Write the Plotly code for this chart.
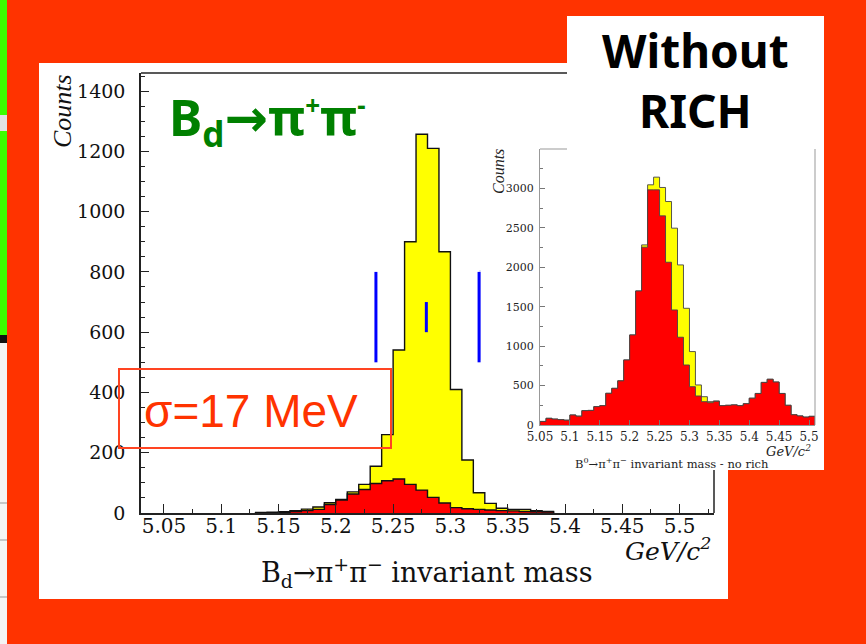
import plotly.graph_objects as go

W, H = 866, 644

# ---------------- data ----------------
# Main plot (with RICH): bin left edges in GeV/c^2, bin width 0.01
main_bins = [5.13, 5.14, 5.15, 5.16, 5.17, 5.18, 5.19, 5.20, 5.21, 5.22, 5.23, 5.24, 5.25,
             5.26, 5.27, 5.28, 5.29, 5.30, 5.31, 5.32, 5.33, 5.34, 5.35, 5.36, 5.37, 5.38]
main_all = [2, 3, 4, 8, 13, 20, 34, 45, 70, 95, 155, 260, 541,
            900, 1257, 1210, 867, 410, 176, 67, 32, 16, 12, 12, 8, 5]
main_sel = [1, 1, 2, 5, 8, 12, 28, 43, 63, 78, 98, 107, 113,
            95, 76, 52, 33, 18, 14, 12, 10, 8, 7, 5, 4, 3]

# Inset (without RICH): bin left edges, bin width 0.01
inset_bins = [5.05, 5.06, 5.07, 5.08, 5.09, 5.10, 5.11, 5.12, 5.13, 5.14, 5.15, 5.16,
              5.17, 5.18, 5.19, 5.20, 5.21, 5.22, 5.23, 5.24, 5.25, 5.26, 5.27, 5.28,
              5.29, 5.30, 5.31, 5.32, 5.33, 5.34, 5.35, 5.36, 5.37, 5.38, 5.39, 5.40,
              5.41, 5.42, 5.43, 5.44, 5.45, 5.46, 5.47, 5.48, 5.49, 5.50]
inset_all = [45, 85, 75, 68, 61, 127, 112, 182, 185, 233, 245, 402,
             465, 560, 825, 1142, 1700, 2284, 3046, 3143, 3012, 2834, 2496, 2030,
             1480, 931, 508, 359, 296, 305, 245, 250, 255, 245, 270, 340,
             400, 540, 580, 545, 400, 250, 130, 115, 100, 110]
inset_sel = [45, 85, 75, 68, 61, 127, 112, 182, 185, 233, 245, 402,
             465, 560, 825, 1142, 1700, 2255, 2982, 2982, 2652, 2064, 1459, 1113,
             761, 486, 368, 296, 283, 300, 245, 250, 255, 245, 270, 340,
             400, 540, 580, 545, 400, 250, 130, 115, 100, 110]
bin_width = 0.01

main_xticks = [5.05, 5.1, 5.15, 5.2, 5.25, 5.3, 5.35, 5.4, 5.45, 5.5]
main_xtext = ["5.05", "5.1", "5.15", "5.2", "5.25", "5.3", "5.35", "5.4", "5.45", "5.5"]
main_yticks = [0, 200, 400, 600, 800, 1000, 1200, 1400]
main_ytext = ["0", "200", "400", "600", "800", "1000", "1200", "1400"]
inset_yticks = [0, 500, 1000, 1500, 2000, 2500, 3000]
inset_ytext = ["0", "500", "1000", "1500", "2000", "2500", "3000"]

# mass window markers (blue)
window_x = [5.235, 5.279, 5.325]
window_lo = [500, 600, 500]
window_hi = [800, 700, 800]


def PX(x):
    return x / W


def PY(y):
    return 1 - y / H


def step(edges, vals, width):
    xs = [edges[0]]
    ys = [0]
    for e, v in zip(edges, vals):
        xs.append(e)
        ys.append(v)
    xs.append(edges[-1] + width)
    ys.append(vals[-1])
    xs.append(edges[-1] + width)
    ys.append(0)
    return xs, ys


fig = go.Figure()

for vals, col, ax, lc, lw in [
    (main_all, "#FFFF00", ("x", "y"), "#111111", 1.4),
    (main_sel, "#FF0000", ("x", "y"), "#111111", 1.4),
    (inset_all, "#FFFF00", ("x2", "y2"), "#444444", 0.9),
    (inset_sel, "#FF0000", ("x2", "y2"), "#444444", 0.9),
]:
    edges = main_bins if ax[0] == "x" else inset_bins
    xs, ys = step(edges, vals, bin_width)
    fig.add_trace(go.Scatter(x=xs, y=ys, mode="lines", line_shape="hv",
                             fill="tozeroy", fillcolor=col,
                             line=dict(color=lc, width=lw),
                             xaxis=ax[0], yaxis=ax[1], showlegend=False,
                             hoverinfo="skip"))

shapes = []
# backgrounds
shapes.append(dict(type="rect", xref="paper", yref="paper", x0=PX(39), x1=PX(728),
                   y0=PY(599), y1=PY(63), fillcolor="white", line_width=0, layer="below"))
shapes.append(dict(type="rect", xref="paper", yref="paper", x0=PX(567), x1=PX(824),
                   y0=PY(470), y1=PY(16), fillcolor="white", line_width=0, layer="below"))
shapes.append(dict(type="rect", xref="paper", yref="paper", x0=0, x1=PX(7),
                   y0=PY(335), y1=PY(0), fillcolor="#3CFF00", line_width=0, layer="below"))
shapes.append(dict(type="rect", xref="paper", yref="paper", x0=0, x1=PX(7),
                   y0=PY(131), y1=PY(115), fillcolor="#E2E2E2", line_width=0, layer="below"))
shapes.append(dict(type="rect", xref="paper", yref="paper", x0=0, x1=PX(7),
                   y0=PY(343), y1=PY(335), fillcolor="#111111", line_width=0, layer="below"))
shapes.append(dict(type="rect", xref="paper", yref="paper", x0=0, x1=PX(7),
                   y0=0, y1=PY(343), fillcolor="#F4F4F4", line_width=0, layer="below"))
for yy in [503, 540, 597]:
    shapes.append(dict(type="line", xref="paper", yref="paper", x0=0, x1=PX(7),
                       y0=PY(yy), y1=PY(yy), line=dict(color="#999999", width=1), layer="below"))
shapes.append(dict(type="line", xref="paper", yref="paper", x0=PX(480), x1=PX(480),
                   y0=PY(360), y1=PY(270), line=dict(color="#C8C8FF", width=1), layer="below"))
# main frame (top and right parts)
shapes.append(dict(type="line", xref="paper", yref="paper", x0=PX(141), x1=PX(567),
                   y0=PY(73), y1=PY(73), line=dict(color="#222222", width=1.5)))
shapes.append(dict(type="line", xref="paper", yref="paper", x0=PX(714), x1=PX(714),
                   y0=PY(513), y1=PY(470), line=dict(color="#222222", width=1.5)))
# inset frame (top-left piece and right)
shapes.append(dict(type="line", xref="paper", yref="paper", x0=PX(540), x1=PX(567),
                   y0=PY(149), y1=PY(149), line=dict(color="#999999", width=1)))
shapes.append(dict(type="line", xref="paper", yref="paper", x0=PX(815), x1=PX(815),
                   y0=PY(425), y1=PY(149), line=dict(color="#999999", width=1)))
# sigma box
shapes.append(dict(type="rect", xref="paper", yref="paper", x0=PX(119), x1=PX(391),
                   y0=PY(448), y1=PY(369), line=dict(color="#FF4422", width=2)))
# blue mass window lines
for wx, lo, hi in zip(window_x, window_lo, window_hi):
    shapes.append(dict(type="line", xref="x", yref="y", x0=wx, x1=wx, y0=lo, y1=hi,
                       line=dict(color="#0000FF", width=3)))

serif = "DejaVu Serif, serif"
times = "Liberation Serif, Times New Roman, serif"

annotations = [
    dict(x=PX(167), y=PY(120), xanchor="left", yanchor="middle",
         text="<b>B<sub>d</sub><span style='font-family:DejaVu Sans;font-size:52px'>→</span>π"
              "<sup><span style='font-size:26px'>+</span></sup>"
              "π<sup><span style='font-size:26px'>-</span></sup></b>",
         font=dict(family="Noto Sans, sans-serif", size=50, color="#008000")),
    dict(x=PX(695), y=PY(80), xanchor="center", yanchor="middle",
         text="<b>Without<br>RICH</b>", align="center",
         font=dict(family="Noto Sans, sans-serif", size=46, color="black")),
    dict(x=PX(251), y=PY(411), xanchor="center", yanchor="middle", text="σ=17 MeV",
         font=dict(family="Liberation Sans, Arial, sans-serif", size=46, color="#FF3300")),
    dict(x=PX(427), y=PY(572), xanchor="center", yanchor="middle",
         text="B<sub>d</sub>→π<sup>+</sup>π<sup>−</sup> invariant mass",
         font=dict(family=serif, size=27, color="#111111")),
    dict(x=PX(713), y=PY(549), xanchor="right", yanchor="middle",
         text="<i>GeV/c<sup>2</sup></i>",
         font=dict(family=serif, size=25, color="#111111")),
    dict(x=PX(62), y=PY(111), xanchor="center", yanchor="middle", textangle=-90,
         text="<i>Counts</i>", font=dict(family=times, size=26, color="#111111")),
    dict(x=PX(499), y=PY(172), xanchor="center", yanchor="middle", textangle=-90,
         text="<i>Counts</i>", font=dict(family=times, size=16, color="#222222")),
    dict(x=PX(672), y=PY(463), xanchor="center", yanchor="middle",
         text="B<sup>0</sup>→π<sup>+</sup>π<sup>−</sup> invariant mass - no rich",
         font=dict(family=serif, size=11.5, color="#222222")),
    dict(x=PX(813), y=PY(451), xanchor="right", yanchor="middle",
         text="<i>GeV/c<sup>2</sup></i>",
         font=dict(family=serif, size=13, color="#222222")),
]
for a in annotations:
    a.update(xref="paper", yref="paper", showarrow=False)

fig.update_layout(
    width=W, height=H, autosize=False,
    margin=dict(l=0, r=0, t=0, b=0, pad=0, autoexpand=False),
    paper_bgcolor="#FF3300", plot_bgcolor="rgba(0,0,0,0)",
    shapes=shapes, annotations=annotations, showlegend=False,
    xaxis=dict(domain=[PX(141), PX(714)], range=[5.03, 5.53], anchor="y",
               automargin=False,
               showline=True, linecolor="#222222", linewidth=1.5,
               ticks="inside", ticklen=9, tickwidth=1.2, tickcolor="#222222",
               tickvals=main_xticks, ticktext=main_xtext,
               minor=dict(ticks="inside", dtick=0.025, tick0=5.05, ticklen=4,
                          tickcolor="#222222", tickwidth=1),
               tickfont=dict(family=serif, size=20, color="#111111"),
               ticklabelstandoff=-6,
               showgrid=False, zeroline=False, fixedrange=True),
    yaxis=dict(domain=[PY(513), PY(73)], range=[0, 1460], anchor="x",
               automargin=False,
               showline=True, linecolor="#222222", linewidth=1.5,
               ticks="inside", ticklen=8, tickwidth=1.2, tickcolor="#222222",
               tickvals=main_yticks, ticktext=main_ytext,
               minor=dict(ticks="inside", dtick=50, ticklen=4,
                          tickcolor="#222222", tickwidth=1),
               tickfont=dict(family=serif, size=19, color="#111111"),
               ticklabelstandoff=10,
               showgrid=False, zeroline=False, fixedrange=True),
    xaxis2=dict(domain=[PX(540), PX(815)], range=[5.05, 5.51], anchor="y2",
                automargin=False,
                showline=True, linecolor="#999999", linewidth=1,
                ticks="inside", ticklen=5, tickwidth=1, tickcolor="#777777",
                tickvals=main_xticks, ticktext=main_xtext,
                tickfont=dict(family=serif, size=12, color="#222222"),
                ticklabelstandoff=1,
                showgrid=False, zeroline=False, fixedrange=True),
    yaxis2=dict(domain=[PY(425), PY(149)], range=[0, 3500], anchor="x2",
                automargin=False,
                showline=True, linecolor="#999999", linewidth=1,
                ticks="inside", ticklen=5, tickwidth=1, tickcolor="#777777",
                tickvals=inset_yticks, ticktext=inset_ytext,
                minor=dict(ticks="inside", dtick=250, ticklen=3,
                           tickcolor="#777777", tickwidth=1),
                tickfont=dict(family=serif, size=11, color="#222222"),
                ticklabelstandoff=3,
                showgrid=False, zeroline=False, fixedrange=True),
)

fig.write_html("out.html")
